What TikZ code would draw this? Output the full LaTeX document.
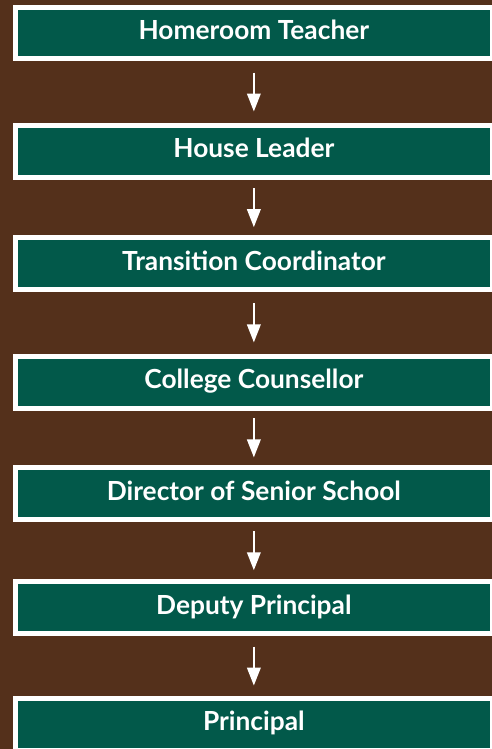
\documentclass[tikz,border=0pt]{standalone}
\usepackage{fontspec}
\setmainfont{Lato}
\usetikzlibrary{arrows.meta,calc}
\definecolor{bgbrown}{HTML}{54301B}
\definecolor{boxgreen}{HTML}{02594A}
\begin{document}
\begin{tikzpicture}[x=1bp,y=-1bp,
  box/.style={draw=white, line width=5bp, fill=boxgreen, minimum width=477.3bp,
    minimum height=52bp, inner sep=0pt, font=\fontsize{26.3bp}{31bp}\selectfont\bfseries,
    text=white, text height=18.85bp, text depth=6bp},
  arr/.style={draw=white, line width=2.2bp, -{Triangle[width=13.5bp,length=18bp]}}]
\useasboundingbox (0,0) rectangle (492,749);
\fill[bgbrown] (0,0) rectangle (492,749);
\node[box, minimum height=51bp] (b1) at (253.85,33) {Homeroom Teacher};
\node[box] (b2) at (253.85,151.5) {House Leader};
\node[box] (b3) at (253.85,263.85) {Transition Coordinator};
\node[box] (b4) at (253.85,382) {College Counsellor};
\node[box] (b5) at (253.85,493.85) {Director of Senior School};
\node[box] (b6) at (253.85,607.65) {Deputy Principal};
\node[box] (b7) at (253.85,724.5) {Principal};
\foreach \a/\b in {b1/b2,b2/b3,b3/b4,b4/b5,b5/b6,b6/b7}{
  \draw[arr] ($(\a.south)!.5!(\b.north)+(0,-19.5)$) -- ($(\a.south)!.5!(\b.north)+(0,19.5)$);
}
\end{tikzpicture}
\end{document}
